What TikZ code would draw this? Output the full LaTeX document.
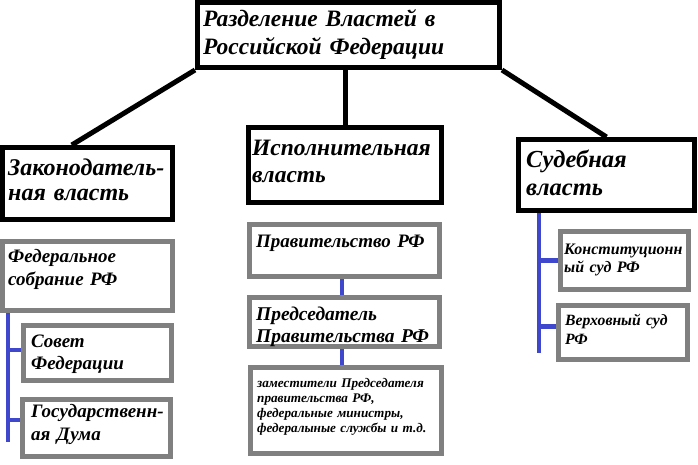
\documentclass[tikz,border=0pt]{standalone}
\usepackage{fontspec}
\setmainfont{Liberation Serif}
\usetikzlibrary{calc}
\definecolor{linkblue}{RGB}{63,72,204}

\begin{document}
\begin{tikzpicture}[x=1pt,y=-1pt,
    box/.style={draw,line width=5pt,inner sep=0pt},
    blk/.style={box,draw=black},
    gry/.style={box,draw=gray},
    txt/.style 2 args={anchor=base west,inner sep=0pt,align=left,text width=260pt,
      font=\fontsize{#1}{#2}\selectfont\bfseries\itshape},
    lnk/.style={line width=5pt},
    blu/.style={line width=4.5pt,draw=linkblue}]
  \useasboundingbox (0,0) rectangle (698,464);

  \node[blk,minimum width=302pt,minimum height=65pt] (top) at (348.5,35)    {};
  \node[blk,minimum width=170pt,minimum height=72pt] (leg) at (87.5,183.5)  {};
  \node[blk,minimum width=193pt,minimum height=75pt] (exe) at (345,165)     {};
  \node[blk,minimum width=176pt,minimum height=71pt] (jud) at (606.5,175)   {};

  \node[gry,minimum width=170pt,minimum height=69pt] (fed)  at (87.5,276)   {};
  \node[gry,minimum width=148pt,minimum height=55pt] (sov)  at (97.5,353)   {};
  \node[gry,minimum width=148pt,minimum height=57pt] (duma) at (96.5,428)   {};
  \node[gry,minimum width=190pt,minimum height=52pt] (prav) at (344.5,250.5){};
  \node[gry,minimum width=190pt,minimum height=49pt] (pred) at (344.5,322)  {};
  \node[gry,minimum width=191pt,minimum height=86pt] (zam)  at (346,410.5)  {};
  \node[gry,minimum width=128pt,minimum height=58pt] (kon)  at (624.5,260.5){};
  \node[gry,minimum width=129pt,minimum height=54pt] (ver)  at (623,332.5)  {};

  \node[txt={23.5}{28}] (toptxt) at (203,26)  {Разделение Властей в\\Российской Федерации};
  \node[txt={24}{25}]   (legtxt) at (8,175)   {Законодатель-\\ная власть};
  \node[txt={23.5}{27}] (exetxt) at (252,155) {Исполнительная\\власть};
  \node[txt={24.5}{28}] (judtxt) at (526,167) {Судебная\\власть};

  \node[txt={19}{23}]   (fedtxt)  at (8,262)   {Федеральное\\собрание РФ};
  \node[txt={19}{22}]   (sovtxt)  at (31,347)  {Совет\\Федерации};
  \node[txt={19}{23}]   (dumatxt) at (31,417)  {Государственн-\\ая Дума};
  \node[txt={19}{22}]   (pravtxt) at (256,247) {Правительство РФ};
  \node[txt={19.5}{22}] (predtxt) at (256,320) {Председатель\\Правительства РФ};
  \node[txt={13.2}{15}] (zamtxt)  at (257,387) {заместители Председателя\\правительства РФ,\\федеральные министры,\\федералыные службы и т.д.};
  \node[txt={16}{18}]   (kontxt)  at (564,254) {Конституционн\\ый суд РФ};
  \node[txt={15.7}{19}] (vertxt)  at (565,325) {Верховный суд\\РФ};

  \draw[lnk] (top.south west) -- ($(leg.north west)!0.41!(leg.north east)$);
  \draw[lnk] (top.south -| exe.north) -- (exe.north);
  \draw[lnk] (top.south east) -- (jud.north);

  \coordinate (fedend) at (8,442);
  \coordinate (sovb)   at ([yshift=3pt]sov.west);
  \coordinate (dumab)  at ([yshift=8pt]duma.west);
  \draw[blu] (fed.south -| fedend) -- (fedend);
  \draw[blu] (sovb -| fedend) -- (sovb);
  \draw[blu] (dumab -| fedend) -- (dumab);

  \coordinate (exx) at (342,0);
  \draw[blu] (exx |- prav.south) -- (exx |- pred.north);
  \draw[blu] (exx |- pred.south) -- (exx |- zam.north);

  \coordinate (jend) at (539,353);
  \coordinate (verb) at ([yshift=6pt]ver.west);
  \draw[blu] (jud.south -| jend) -- (jend);
  \draw[blu] (kon.west -| jend) -- (kon.west);
  \draw[blu] (verb -| jend) -- (verb);
\end{tikzpicture}
\end{document}
